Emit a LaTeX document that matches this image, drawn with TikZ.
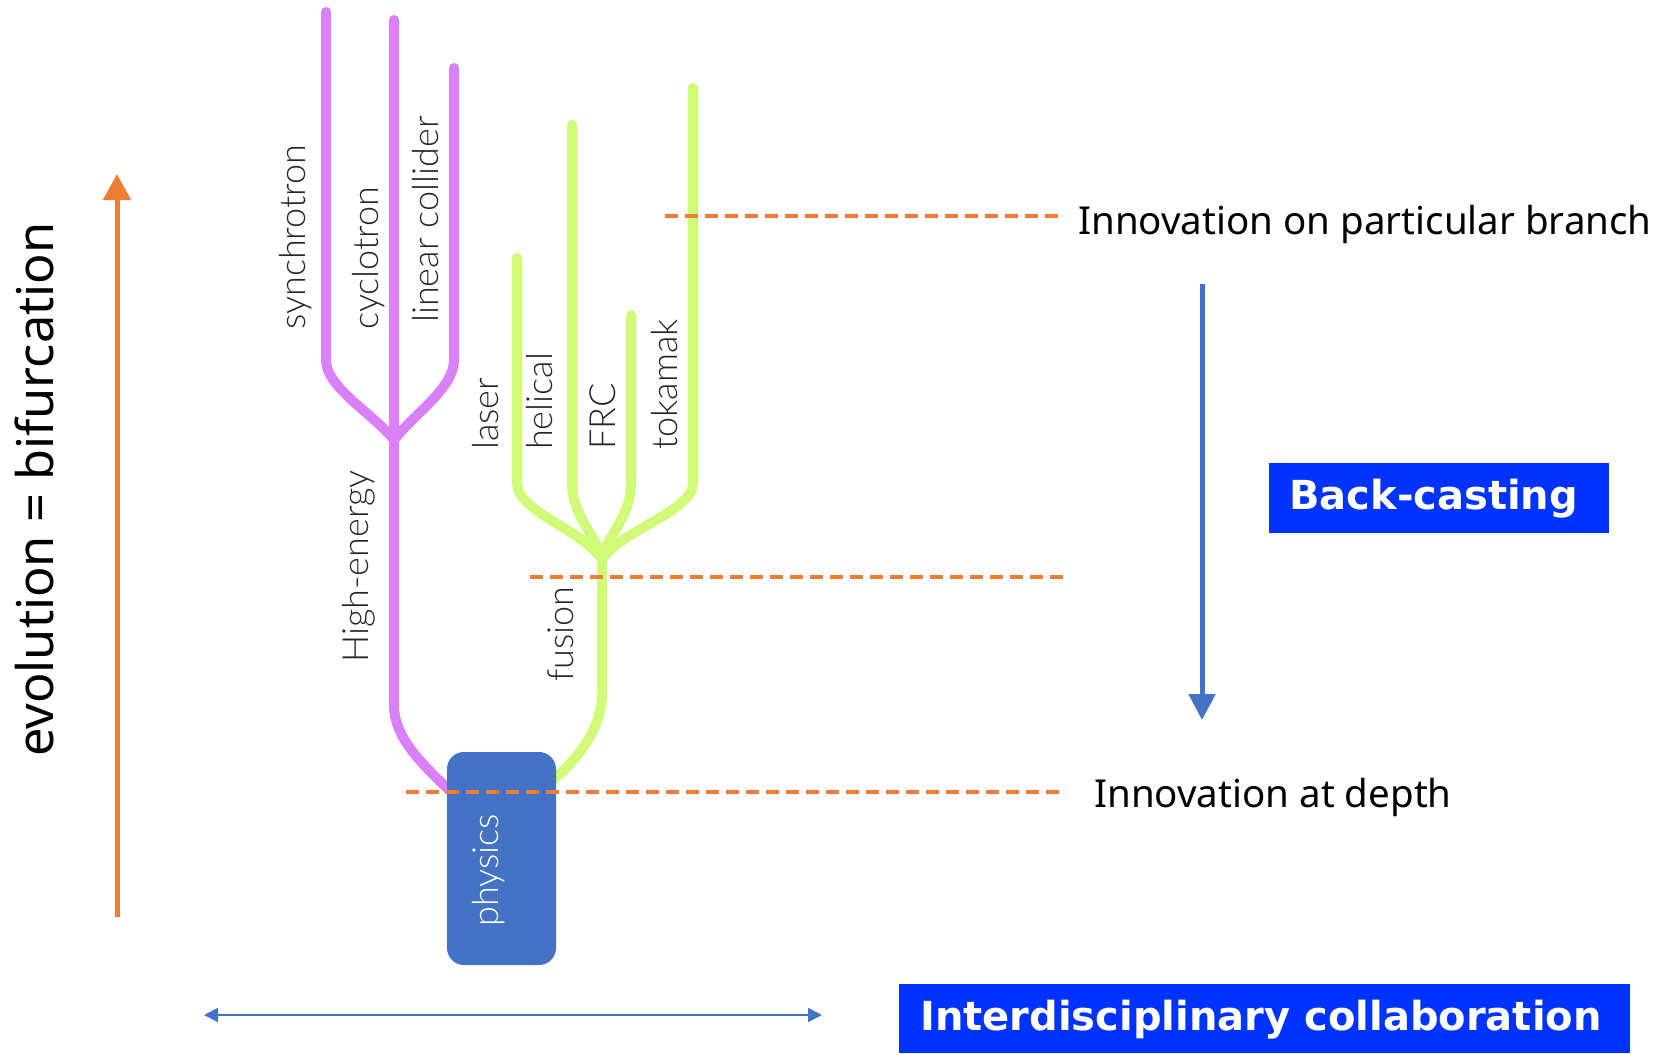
\documentclass[tikz,border=0pt]{standalone}
\usepackage{fontspec}
\setmainfont{Noto Sans}
\newfontfamily\thinfont{Lato Light}
\newfontfamily\boxfont{DejaVu Sans}
\usetikzlibrary{arrows.meta}
\definecolor{purp}{RGB}{218,128,248}
\definecolor{grn}{RGB}{208,250,120}
\definecolor{orng}{RGB}{237,125,49}
\definecolor{accblue}{RGB}{68,114,196}
\definecolor{brightblue}{RGB}{0,51,255}
\tikzset{
  purpline/.style={draw=purp, line width=10pt, line cap=round},
  grnline/.style={draw=grn, line width=10pt, line cap=round},
  odash/.style={draw=orng, line width=4.5pt, dash pattern=on 13pt off 7pt},
  thinlbl/.style={font=\thinfont\fontsize{36}{36}\selectfont, text=black!85, rotate=90, anchor=base west, inner sep=0pt},
  bigtxt/.style={font=\fontsize{38.5}{40}\selectfont, anchor=base west, inner sep=0pt},
  boxtxt/.style={font=\boxfont\bfseries\fontsize{40}{42}\selectfont, text=white, anchor=base west, inner sep=0pt},
  bluebox/.style={fill=brightblue, inner sep=0pt, draw=none},
}
\begin{document}
\begin{tikzpicture}[x=1pt,y=-1pt]
\useasboundingbox (0,0) rectangle (1660,1053);

% ---- purple tree (high-energy) ----
\coordinate (pS) at (326,12);
\coordinate (pC) at (394,20);
\coordinate (pL) at (454,68);
\coordinate (pM) at (394,440);
\coordinate (pEnd) at (449,790);
\draw[purpline] (pS) -- (326,360) .. controls (326,388) and (374,414) .. (pM);
\draw[purpline] (pL) -- (454,360) .. controls (454,388) and (414,414) .. (pM);
\draw[purpline] (pC) -- (pM) -- (394,705) .. controls (394,737) and (420,762) .. (pEnd);

% ---- green tree (fusion) ----
\coordinate (gLa) at (517,258);
\coordinate (gHe) at (572,125);
\coordinate (gFR) at (631,315);
\coordinate (gTo) at (693,88);
\coordinate (gM) at (602,560);
\coordinate (gEnd) at (553,780);
\draw[grnline] (gLa) -- (517,483) .. controls (517,512) and (584,530) .. (gM);
\draw[grnline] (gHe) -- (572,483) .. controls (572,518) and (598,536) .. (gM);
\draw[grnline] (gFR) -- (631,483) .. controls (631,518) and (606,536) .. (gM);
\draw[grnline] (gTo) -- (693,483) .. controls (693,512) and (620,530) .. (gM);
\draw[grnline] (gM) -- (602,693) .. controls (602,727) and (580,757) .. (gEnd);

% ---- physics box ----
\node[fill=accblue, rounded corners=17pt, minimum width=109pt, minimum height=213pt, inner sep=0pt] (phys) at (501.5,858.5) {};
\node[thinlbl, text=white] (physt) at (498,927) {physics};

% ---- dashed lines ----
\coordinate (d1a) at (665,216);  \coordinate (d1b) at (1059,216);
\coordinate (d2a) at (530,577);  \coordinate (d2b) at (1064,577);
\coordinate (d3a) at (406,792);  \coordinate (d3b) at (1064,792);
\draw[odash] (d1a) -- (d1b);
\draw[odash] (d2a) -- (d2b);
\draw[odash] (d3a) -- (d3b);

% ---- branch labels ----
\node[thinlbl] (tsyn) at (305,330) {synchrotron};
\node[thinlbl] (tcyc) at (378,330) {cyclotron};
\node[thinlbl] (tlin) at (438,323) {linear collider};
\node[thinlbl] (thig) at (368,663) {High-energy};
\node[thinlbl] (tlas) at (498,450) {laser};
\node[thinlbl] (thel) at (552,450) {helical};
\node[thinlbl] (tfrc) at (615,450) {FRC};
\node[thinlbl] (ttok) at (677,450) {tokamak};
\node[thinlbl] (tfus) at (573,682) {fusion};

% ---- evolution arrow ----
\coordinate (evoBot) at (117,917);
\coordinate (evoTop) at (117,174);
\draw[draw=orng, line width=5pt, -{Triangle[length=26pt,width=27pt]}] (evoBot) -- (evoTop);
\node[font=\fontsize{50.5}{52}\selectfont, rotate=90, anchor=base west, inner sep=0pt] (evo) at (53,757) {evolution = bifurcation};

% ---- right texts ----
\node[bigtxt] (innA) at (1078,234) {Innovation on particular branch};
\node[bigtxt] (innB) at (1094,807) {Innovation at depth};

% ---- back-casting ----
\coordinate (bcTop) at (1202,284);
\coordinate (bcBot) at (1202,720);
\draw[draw=accblue, line width=5pt, -{Triangle[length=26pt,width=26pt]}] (bcTop) -- (bcBot);
\node[bluebox, minimum width=340pt, minimum height=70pt] (bcbox) at (1439,498) {};
\node[boxtxt] (bctext) at (1289,509) {Back-casting};

% ---- interdisciplinary ----
\coordinate (ia) at (204,1015);
\coordinate (ib) at (822,1015);
\draw[draw=accblue, line width=2pt, {Triangle[length=14pt,width=14pt]}-{Triangle[length=14pt,width=14pt]}] (ia) -- (ib);
\node[bluebox, minimum width=731pt, minimum height=69pt] (icbox) at (1264.5,1018.5) {};
\node[boxtxt] (ictext) at (920,1030) {Interdisciplinary collaboration};
\end{tikzpicture}
\end{document}
